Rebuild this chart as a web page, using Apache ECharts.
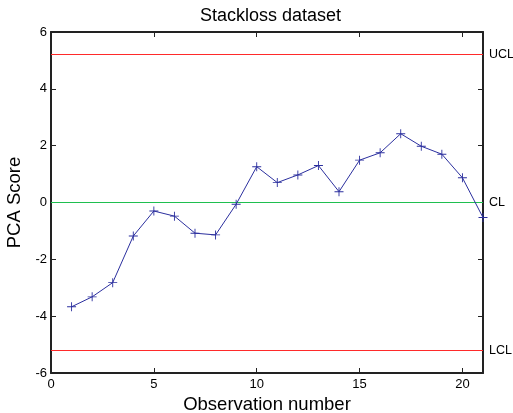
<!DOCTYPE html>
<html>
<head>
<meta charset="utf-8">
<script src="https://cdn.jsdelivr.net/npm/echarts@6/dist/echarts.min.js"></script>
<style>html,body{margin:0;padding:0;background:#fff}#c{width:513px;height:413px}</style>
</head>
<body>
<div id="c"></div>
<script>
var observations = [1,2,3,4,5,6,7,8,9,10,11,12,13,14,15,16,17,18,19,20,21];
var pcaScores = [-3.67,-3.32,-2.82,-1.18,-0.30,-0.48,-1.08,-1.14,-0.06,1.26,0.70,0.97,1.30,0.38,1.49,1.75,2.42,1.98,1.70,0.87,-0.53];
var controlLimits = [{name:'UCL', value:5.2}, {name:'CL', value:0}, {name:'LCL', value:-5.2}];
var limitColors = {UCL:'#ff2a2a', CL:'#1fbf4f', LCL:'#ff2a2a'};
var xTicks = {min:0, max:21, interval:5};
var yTicks = {min:-6, max:6, interval:2};

var font = 'Liberation Sans, Arial, Helvetica, sans-serif';
var chart = echarts.init(document.getElementById('c'));
var plusPath = 'path://M4.5,0h1v10h-1zM0,4.5h10v1h-10z';

var axisCommon = {
  axisLine:{show:true, onZero:false, lineStyle:{color:'#222', width:2}},
  axisTick:{show:true, inside:true, length:5, lineStyle:{color:'#222', width:1}},
  splitLine:{show:false}
};

chart.setOption({
  animation:false,
  title:{text:'Stackloss dataset', left:195, top:2,
    textStyle:{fontFamily:font, fontSize:18, fontWeight:'normal', color:'#000'}},
  grid:{left:51, right:30, top:32, bottom:40, containLabel:false, outerBoundsMode:'none'},
  xAxis:[
    Object.assign({type:'value', min:xTicks.min, max:xTicks.max, interval:xTicks.interval, position:'bottom',
      name:'Observation number', nameLocation:'middle', nameGap:17,
      nameTextStyle:{fontFamily:font, fontSize:18.5, color:'#000'},
      axisLabel:{fontFamily:font, fontSize:13, color:'#000', margin:5, showMaxLabel:false}}, axisCommon),
    Object.assign({type:'value', min:xTicks.min, max:xTicks.max, interval:xTicks.interval, position:'top',
      axisLabel:{show:false}}, axisCommon)
  ],
  yAxis:[
    Object.assign({type:'value', min:yTicks.min, max:yTicks.max, interval:yTicks.interval, position:'left',
      name:'PCA Score', nameLocation:'middle', nameGap:26,
      nameTextStyle:{fontFamily:font, fontSize:18.5, color:'#000'},
      axisLabel:{fontFamily:font, fontSize:13, color:'#000', margin:4}}, axisCommon),
    Object.assign({type:'value', min:yTicks.min, max:yTicks.max, interval:yTicks.interval, position:'right',
      axisLabel:{show:false}}, axisCommon)
  ],
  series:[
    {type:'line', xAxisIndex:0, yAxisIndex:0,
     data:observations.map(function(x,i){return [x,pcaScores[i]];}),
     symbol:plusPath, symbolSize:9, showSymbol:true,
     lineStyle:{color:'#2b2f9e', width:1},
     itemStyle:{color:'#2b2f9e'},
     z:5,
     markLine:{silent:true, symbol:['none','none'],
       data:controlLimits.map(function(c){
         return {yAxis:c.value, name:c.name,
           lineStyle:{color:limitColors[c.name], width:1.2, type:'solid'},
           label:{show:true, position:'end', distance:6, formatter:c.name,
             fontFamily:font, fontSize:12.5, color:'#000'}};
       })
     }
    }
  ]
});
</script>
</body>
</html>
